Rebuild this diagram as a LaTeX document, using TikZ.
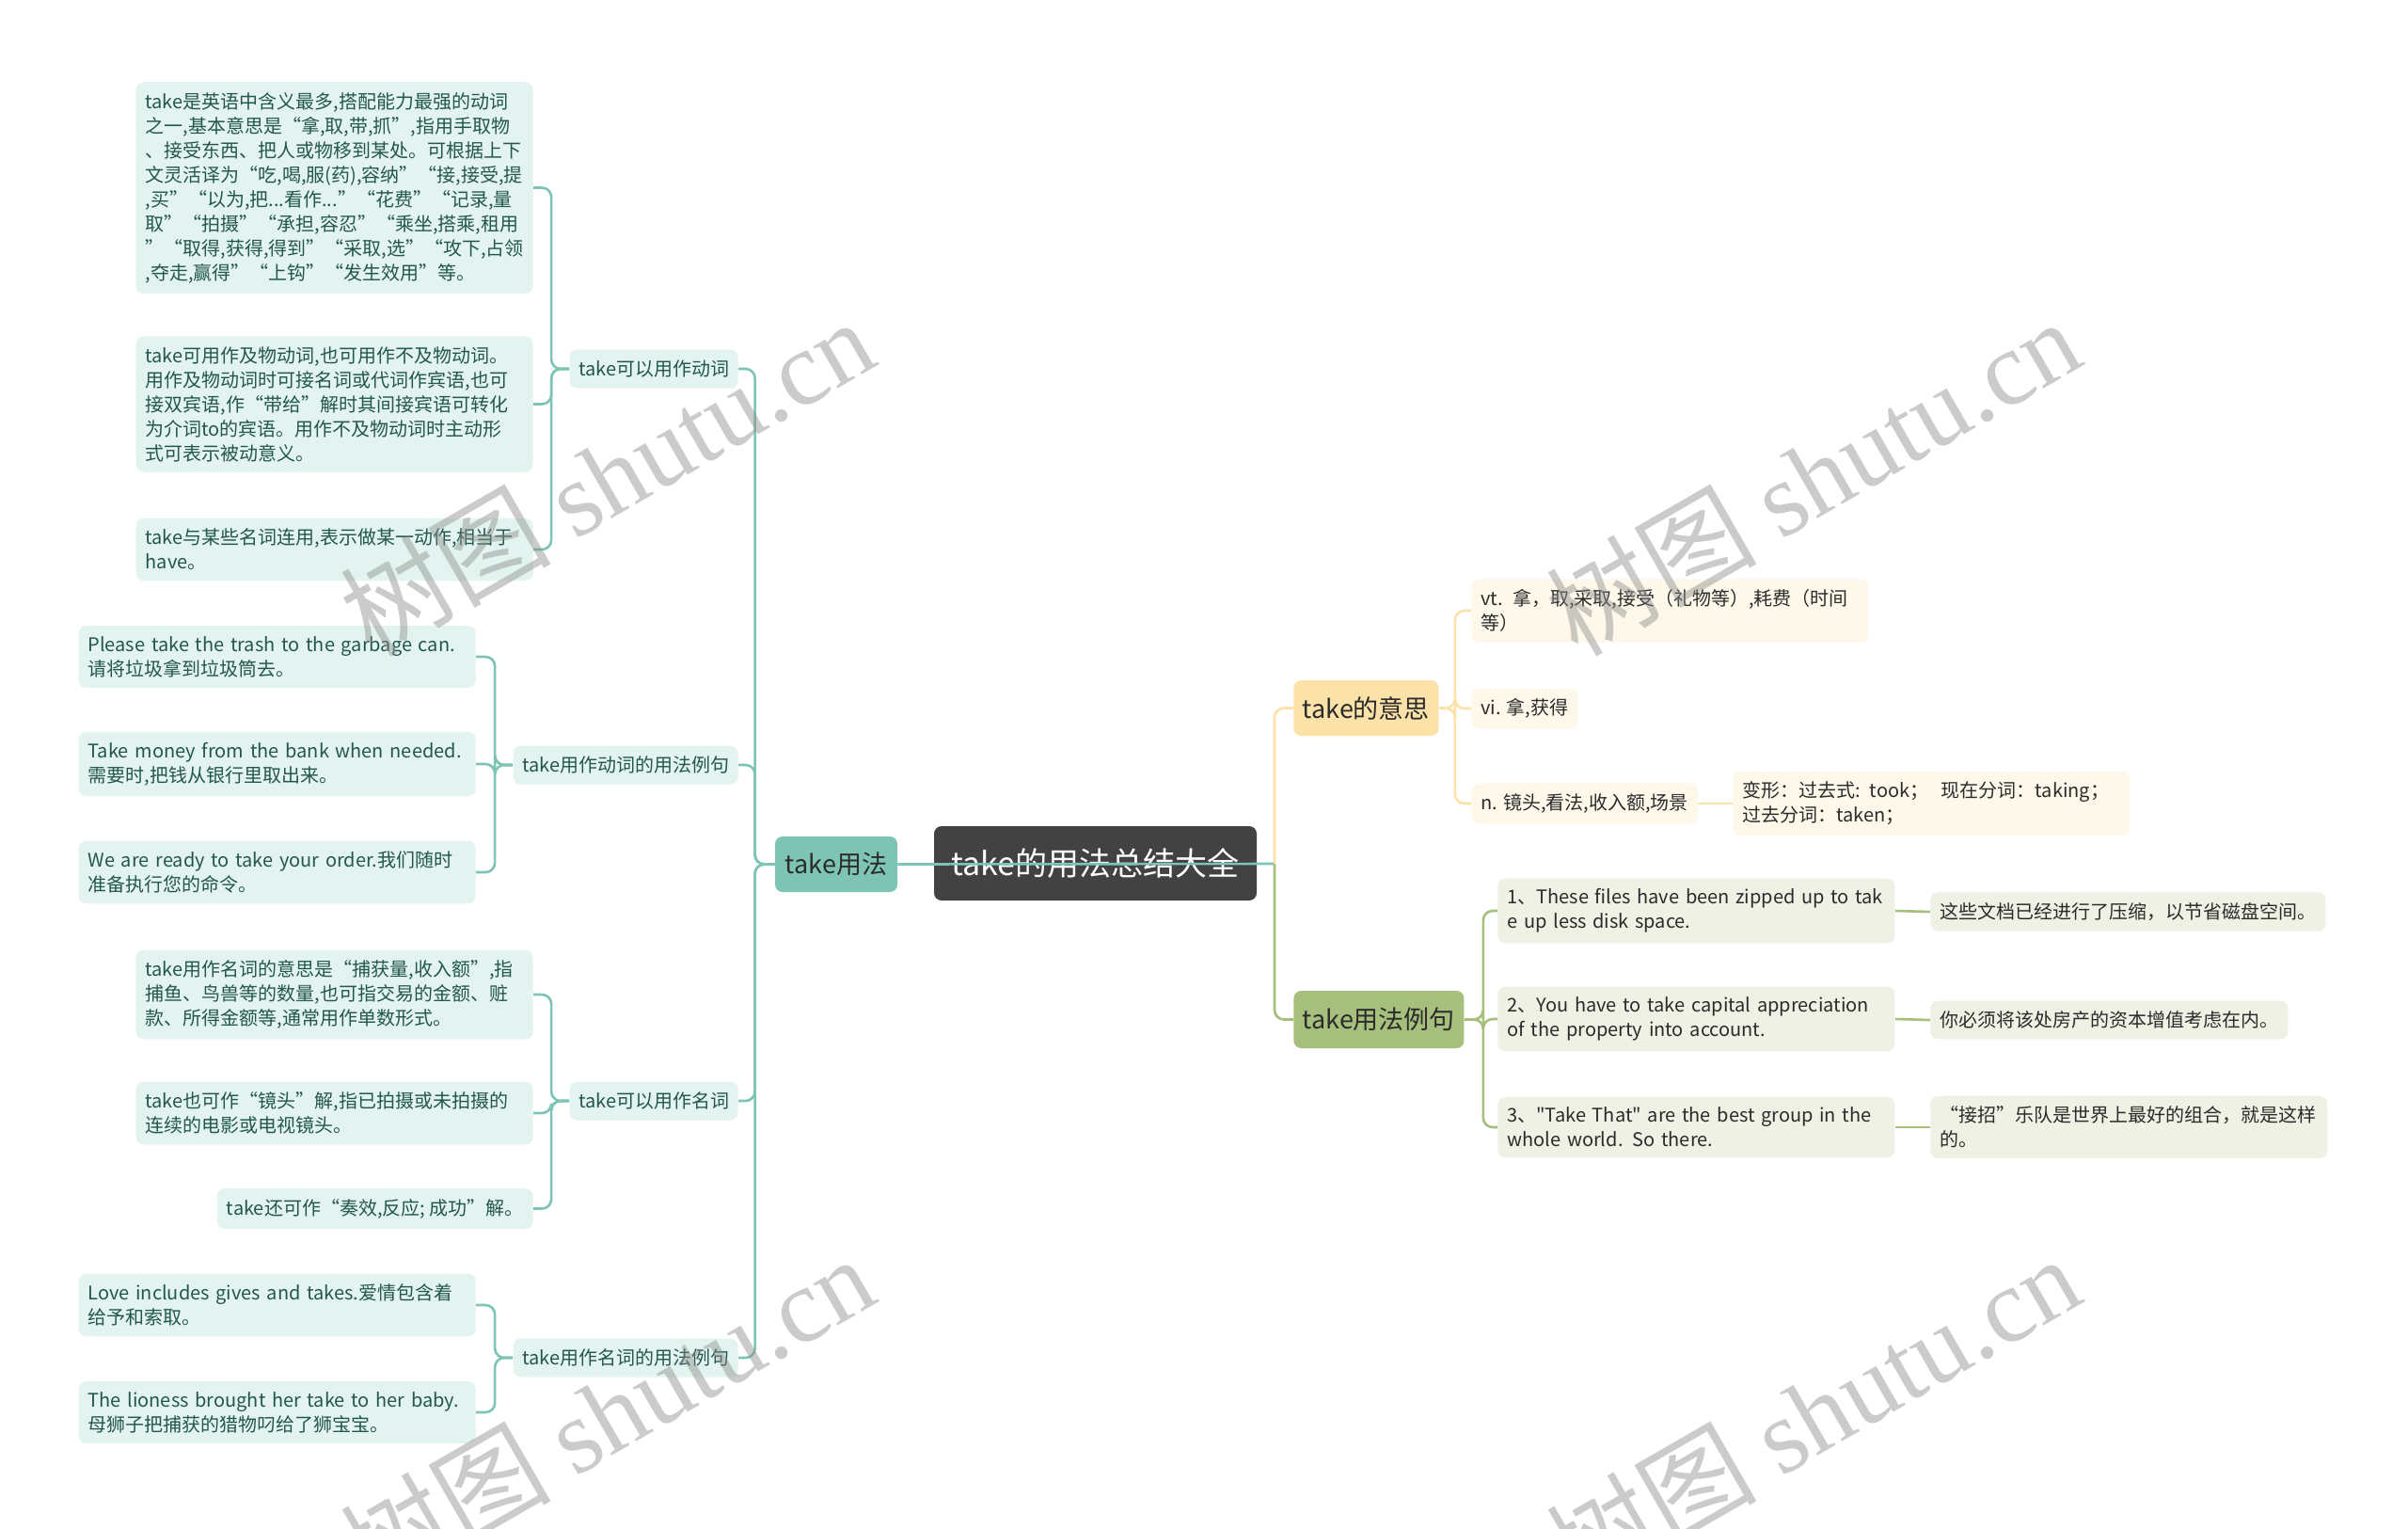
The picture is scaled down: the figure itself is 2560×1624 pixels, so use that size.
\documentclass[tikz,border=0pt]{standalone}
\usepackage{fontspec}
\setmainfont{Noto Sans CJK SC}[Ligatures=TeXOff]
\newfontfamily\wmfont{Liberation Serif}

\definecolor{rootc}{HTML}{424242}
\definecolor{tealc}{HTML}{7DC4B4}
\definecolor{tealpale}{HTML}{E3F4F0}
\definecolor{tealtext}{HTML}{24574B}
\definecolor{orangec}{HTML}{FCE2A9}
\definecolor{orangepale}{HTML}{FDF8EA}
\definecolor{olivec}{HTML}{A7BF7C}
\definecolor{olivepale}{HTML}{EEF1E3}
\definecolor{darktext}{HTML}{2B2B2B}

\pgfdeclarelayer{bottom}
\pgfdeclarelayer{back}
\pgfsetlayers{bottom,back,main}

\begin{document}
\begin{tikzpicture}[x=0.5pt,y=-0.5pt,
  box/.style={rounded corners=4pt,inner xsep=5pt,inner ysep=5.5pt,align=left,
    font=\fontsize{10}{13}\selectfont},
  wide/.style={text width=201pt},
  tealleaf/.style={box,fill=tealpale,text=tealtext},
  orangeleaf/.style={box,fill=orangepale,text=darktext},
  oliveleaf/.style={box,fill=olivepale,text=darktext},
  subtopic/.style={tealleaf,inner xsep=4.75pt,inner ysep=4pt,minimum height=20.5pt},
  topic/.style={rounded corners=4pt,inner xsep=4.75pt,minimum height=29.5pt,
    font=\fontsize{13.5}{16}\selectfont,text=darktext},
  rootbox/.style={rounded corners=4pt,fill=rootc,text=white,minimum width=171.5pt,
    minimum height=39.5pt,font=\fontsize{17}{20}\selectfont},
  tealline/.style={draw=tealc,line width=1.3pt,rounded corners=5pt},
  orangeline/.style={draw=orangec,line width=1.3pt,rounded corners=5pt},
  oliveline/.style={draw=olivec,line width=1.3pt,rounded corners=5pt},
  wmark/.style={text=black!45,text opacity=0.45,rotate=30,font=\fontsize{56}{60}\selectfont}
]
\useasboundingbox (0,0) rectangle (2560,1624);
\clip (0,0) rectangle (2560,1624);

% centre
\begin{pgfonlayer}{bottom}
\fill[white] (0,0) rectangle (2560,1624);
\node[rootbox] (root) at (1164.5,917.5) {take的用法总结大全};
\end{pgfonlayer}
\coordinate (hub) at (1355,918);

% left branch
\node[topic,fill=tealc,minimum width=65pt] (use) at (889,918.5) {take用法};

\node[subtopic,anchor=east] (verb) at (785,392) {take可以用作动词};
\node[subtopic,anchor=east] (verbex) at (785,813) {take用作动词的用法例句};
\node[subtopic,anchor=east] (noun) at (785,1170) {take可以用作名词};
\node[subtopic,anchor=east] (nounex) at (785,1443) {take用作名词的用法例句};

\node[tealleaf,wide,anchor=east] (verb1) at (567,199.5) {take是英语中含义最多,搭配能力最强的动词\\之一,基本意思是“拿,取,带,抓”,指用手取物\\、接受东西、把人或物移到某处。可根据上下\\文灵活译为“吃,喝,服(药),容纳”“接,接受,提\\,买”“以为,把...看作...”“花费”“记录,量\\取”“拍摄”“承担,容忍”“乘坐,搭乘,租用\\”“取得,获得,得到”“采取,选”“攻下,占领\\,夺走,赢得”“上钩”“发生效用”等。};
\node[tealleaf,wide,anchor=east] (verb2) at (567,429.5) {take可用作及物动词,也可用作不及物动词。\\用作及物动词时可接名词或代词作宾语,也可\\接双宾语,作“带给”解时其间接宾语可转化\\为介词to的宾语。用作不及物动词时主动形\\式可表示被动意义。};
\node[tealleaf,wide,anchor=east] (verb3) at (567,584) {take与某些名词连用,表示做某一动作,相当于\\have。};

\node[tealleaf,wide,anchor=east] (verbex1) at (506,698) {Please take the trash to the garbage can.\\请将垃圾拿到垃圾筒去。};
\node[tealleaf,wide,anchor=east] (verbex2) at (506,812) {Take money from the bank when needed.\\需要时,把钱从银行里取出来。};
\node[tealleaf,wide,anchor=east] (verbex3) at (506,927) {We are ready to take your order.我们随时\\准备执行您的命令。};

\node[tealleaf,wide,anchor=east] (noun1) at (567,1057) {take用作名词的意思是“捕获量,收入额”,指\\捕鱼、鸟兽等的数量,也可指交易的金额、赃\\款、所得金额等,通常用作单数形式。};
\node[tealleaf,wide,anchor=east] (noun2) at (567,1183) {take也可作“镜头”解,指已拍摄或未拍摄的\\连续的电影或电视镜头。};
\node[tealleaf,anchor=east] (noun3) at (567,1284.5) {take还可作“奏效,反应; 成功”解。};

\node[tealleaf,wide,anchor=east] (nounex1) at (506,1387) {Love includes gives and takes.爱情包含着\\给予和索取。};
\node[tealleaf,wide,anchor=east] (nounex2) at (506,1501) {The lioness brought her take to her baby.\\母狮子把捕获的猎物叼给了狮宝宝。};

% right branch
\node[topic,fill=orangec,anchor=west] (mean) at (1375,752.5) {take的意思};
\node[topic,fill=olivec,anchor=west,minimum height=30.5pt] (exmp) at (1375,1083.5) {take用法例句};

\node[orangeleaf,wide,anchor=west] (mean1) at (1564,649) {vt. 拿，取,采取,接受（礼物等）,耗费（时间\\等）};
\node[orangeleaf,anchor=west] (mean2) at (1564,753) {vi. 拿,获得};
\node[orangeleaf,anchor=west] (mean3) at (1564,854) {n. 镜头,看法,收入额,场景};
\node[orangeleaf,wide,anchor=west] (mean4) at (1842,854) {变形：过去式: took；\ \ 现在分词：taking；\\过去分词：taken；};

\node[oliveleaf,wide,anchor=west] (exmp1) at (1592,968) {1、These files have been zipped up to tak\\e up less disk space.};
\node[oliveleaf,wide,anchor=west] (exmp2) at (1592,1083) {2、You have to take capital appreciation\\of the property into account.};
\node[oliveleaf,wide,anchor=west] (exmp3) at (1592,1198) {3、"Take That" are the best group in the\\whole world. So there.};
\node[oliveleaf,anchor=west] (exmp1c) at (2052,969) {这些文档已经进行了压缩，以节省磁盘空间。};
\node[oliveleaf,anchor=west] (exmp2c) at (2052,1084) {你必须将该处房产的资本增值考虑在内。};
\node[oliveleaf,wide,anchor=west] (exmp3c) at (2052,1198) {“接招”乐队是世界上最好的组合，就是这样\\的。};

% connectors
\begin{pgfonlayer}{back}
\draw[tealline] (hub) -- (use.east);
\draw[orangeline] (hub) |- (mean.west);
\draw[oliveline] (hub) |- (exmp.west);

\foreach \c in {verb,verbex,noun,nounex}
  \draw[tealline] (use.west) -- ++(-21,0) |- (\c.east);
\foreach \c in {verb1,verb2,verb3}
  \draw[tealline] (verb.west) -- ++(-19,0) |- (\c.east);
\foreach \c in {verbex1,verbex2,verbex3}
  \draw[tealline] (verbex.west) -- ++(-19,0) |- (\c.east);
\foreach \c in {noun1,noun2,noun3}
  \draw[tealline] (noun.west) -- ++(-19,0) |- (\c.east);
\foreach \c in {nounex1,nounex2}
  \draw[tealline] (nounex.west) -- ++(-19,0) |- (\c.east);

\foreach \c in {mean1,mean2,mean3}
  \draw[orangeline] (mean.east) -- ++(17,0) |- (\c.west);
\draw[orangeline] (mean3.east) -- (mean4.west);

\foreach \c in {exmp1,exmp2,exmp3}
  \draw[oliveline] (exmp.east) -- ++(20,0) |- (\c.west);
\draw[oliveline] (exmp1.east) -- (exmp1c.west);
\draw[oliveline] (exmp2.east) -- (exmp2c.west);
\draw[oliveline] (exmp3.east) -- (exmp3c.west);
\end{pgfonlayer}

% watermark
\node[wmark] (wm1) at (645,506) {树图 {\wmfont shutu.cn}};
\node[wmark] (wm2) at (1927,506) {树图 {\wmfont shutu.cn}};
\node[wmark] (wm3) at (645,1502) {树图 {\wmfont shutu.cn}};
\node[wmark] (wm4) at (1927,1502) {树图 {\wmfont shutu.cn}};
\end{tikzpicture}
\end{document}
